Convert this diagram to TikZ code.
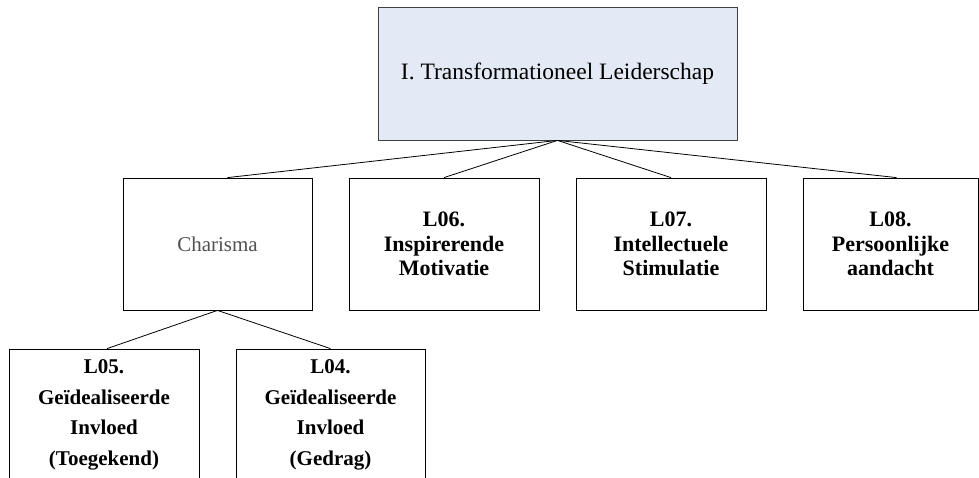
\documentclass[tikz,border=0pt]{standalone}
\usepackage{fontspec}
\setmainfont{Liberation Serif}
\definecolor{topfill}{HTML}{E4EAF5}
\definecolor{topdraw}{HTML}{404040}
\definecolor{chartext}{HTML}{505050}
\begin{document}
\begin{tikzpicture}[x=1pt,y=-1pt,
  box/.style={draw=black, line width=0.8pt, minimum height=132pt, inner sep=0pt, align=center},
  topbox/.style={box, fill=topfill, draw=topdraw, minimum width=359pt, minimum height=133pt,
    font=\fontsize{23.5}{28}\selectfont},
  rowbox/.style={box, minimum width=190pt, font=\fontsize{22}{24.5}\selectfont\bfseries},
  lowbox/.style={box, minimum width=190pt, font=\fontsize{21}{30.5}\selectfont\bfseries},
  link/.style={draw=black, line width=0.8pt}]
\useasboundingbox (0,0) rectangle (979,477);
\node[topbox] (top) at (557.5,73.5) {I. Transformationeel Leiderschap};
\node[box, minimum width=189pt, text=chartext, font=\fontsize{21}{25}\selectfont] (char) at (217.5,244) {Charisma};
\node[rowbox] (l06) at (444,244) {L06.\\Inspirerende\\Motivatie};
\node[rowbox] (l07) at (671,244) {L07.\\Intellectuele\\Stimulatie};
\node[rowbox, minimum width=175pt] (l08) at (890.5,244) {L08.\\Persoonlijke\\aandacht};
\node[lowbox] (l05) at (104,415) {L05.\\Geïdealiseerde\\Invloed\\(Toegekend)};
\node[lowbox, minimum width=189pt] (l04) at (330.5,415) {L04.\\Geïdealiseerde\\Invloed\\(Gedrag)};
\draw[link] (top.south) -- ([xshift=10pt]char.north);
\draw[link] (top.south) -- (l06.north);
\draw[link] (top.south) -- (l07.north);
\draw[link] (top.south) -- ([xshift=6pt]l08.north);
\draw[link] (char.south) -- ([xshift=3pt]l05.north);
\draw[link] (char.south) -- (l04.north);
\end{tikzpicture}
\end{document}
